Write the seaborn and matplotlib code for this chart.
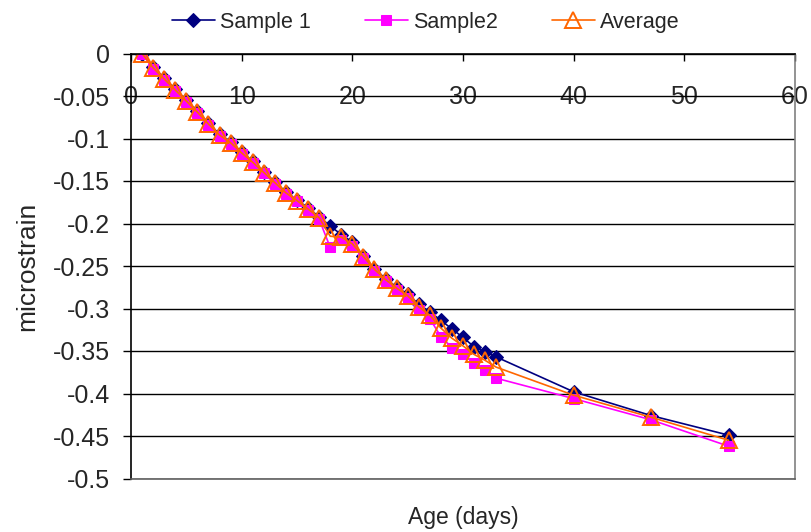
import matplotlib
matplotlib.use("Agg")
import matplotlib.pyplot as plt
import seaborn as sns
import pandas as pd

# Shrinkage readings over time
age_days = [1, 2, 3, 4, 5, 6, 7, 8, 9, 10, 11, 12, 13, 14, 15, 16, 17,
            18, 19, 20, 21, 22, 23, 24, 25, 26, 27, 28, 29, 30, 31, 32, 33,
            40, 47, 54]
sample_1 = [0.000, -0.016, -0.029, -0.042, -0.055, -0.068, -0.082, -0.095,
            -0.104, -0.116, -0.127, -0.139, -0.151, -0.163, -0.172, -0.182,
            -0.192, -0.203, -0.213, -0.222, -0.238, -0.253, -0.265, -0.275,
            -0.283, -0.295, -0.304, -0.314, -0.324, -0.334, -0.345, -0.351,
            -0.357, -0.398, -0.426, -0.449]
sample_2 = [0.000, -0.018, -0.031, -0.044, -0.057, -0.070, -0.084, -0.097,
            -0.107, -0.118, -0.129, -0.141, -0.153, -0.165, -0.174, -0.184,
            -0.195, -0.228, -0.219, -0.226, -0.240, -0.256, -0.268, -0.278,
            -0.288, -0.302, -0.312, -0.333, -0.346, -0.354, -0.364, -0.372,
            -0.382, -0.406, -0.431, -0.462]
average = [0.000, -0.017, -0.030, -0.043, -0.056, -0.069, -0.083, -0.096,
           -0.105, -0.117, -0.128, -0.140, -0.152, -0.164, -0.173, -0.183,
           -0.193, -0.215, -0.216, -0.224, -0.239, -0.254, -0.266, -0.276,
           -0.285, -0.298, -0.308, -0.323, -0.335, -0.344, -0.354, -0.361,
           -0.369, -0.402, -0.428, -0.455]

series_names = ["Sample 1", "Sample2", "Average"]
x_ticks = [0, 10, 20, 30, 40, 50, 60]
y_ticks = [0, -0.05, -0.1, -0.15, -0.2, -0.25, -0.3, -0.35, -0.4, -0.45, -0.5]
y_tick_labels = ["0", "-0.05", "-0.1", "-0.15", "-0.2", "-0.25", "-0.3",
                 "-0.35", "-0.4", "-0.45", "-0.5"]

df = pd.DataFrame({"Age (days)": age_days,
                   "Sample 1": sample_1,
                   "Sample2": sample_2,
                   "Average": average})

sns.set_style("white")
plt.rcParams["font.family"] = ["Liberation Sans", "DejaVu Sans"]
FS_TICK = 18
FS_XLABEL = 16.5
FS_YLABEL = 19
FS_LEGEND = 15.5

fig = plt.figure(figsize=(8.11, 5.32), dpi=100)
ax = fig.add_axes([131 / 811, 1 - 478.5 / 532, 664 / 811, 425 / 532])

styles = {
    "Sample 1": dict(color="#000080", marker="D", markersize=7.5,
                     markerfacecolor="#000080", markeredgecolor="#000080"),
    "Sample2": dict(color="#FF00FF", marker="s", markersize=7.5,
                    markerfacecolor="#FF00FF", markeredgecolor="#FF00FF"),
    "Average": dict(color="#FF6600", marker="^", markersize=11.5,
                    markerfacecolor="none", markeredgecolor="#FF6600",
                    markeredgewidth=1.4),
}

for name in series_names:
    sns.lineplot(data=df, x="Age (days)", y=name, ax=ax, sort=False,
                 linewidth=1.2, label=name, **styles[name])

ax.set_xlim(0, 60)
ax.set_ylim(-0.5, 0)
ax.set_xticks(x_ticks)
ax.set_xticklabels([str(t) for t in x_ticks])
ax.set_yticks(y_ticks)
ax.set_yticklabels(y_tick_labels)

# x axis sits at zero (top edge); its labels hang inside the plot
ax.tick_params(axis="x", which="both", bottom=False, top=True,
               labelbottom=False, labeltop=True, direction="in",
               length=5, width=1, color="black", pad=-40, labelsize=FS_TICK)
ax.tick_params(axis="y", direction="out", length=6, width=1,
               color="black", pad=9, labelsize=FS_TICK, left=True)

ax.yaxis.grid(True, color="black", linewidth=1)
ax.xaxis.grid(False)
ax.set_axisbelow(True)

for side, col in [("top", "black"), ("left", "black"),
                  ("right", "#808080"), ("bottom", "#606060")]:
    ax.spines[side].set_visible(True)
    ax.spines[side].set_color(col)
    ax.spines[side].set_linewidth(1.2)

ax.xaxis.set_label_position("bottom")
ax.set_xlabel("Age (days)", fontsize=FS_XLABEL, labelpad=20)
ax.set_ylabel("microstrain", fontsize=FS_YLABEL, labelpad=10)

ax.get_legend().remove()
handles, labels = ax.get_legend_handles_labels()
fig.legend(handles, labels, loc="center", bbox_to_anchor=(0.525, 0.958),
           ncol=3, frameon=False, fontsize=FS_LEGEND, handlelength=2.0,
           columnspacing=2.5, handletextpad=0.25)

fig.savefig("out.png", dpi=100)
